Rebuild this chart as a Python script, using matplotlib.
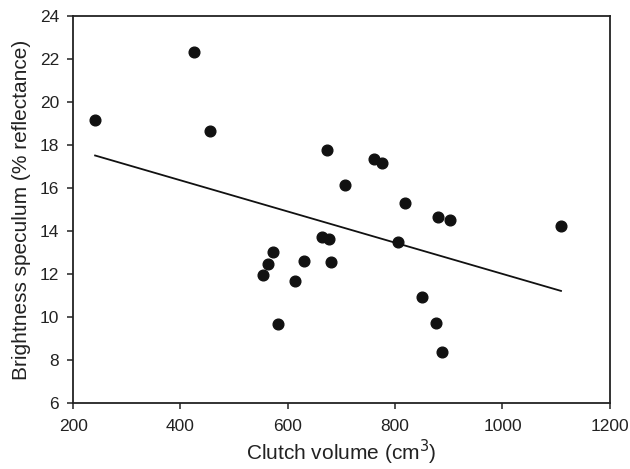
import numpy as np
import matplotlib
matplotlib.use('Agg')
from matplotlib import pyplot as plt

plt.rcParams['font.family'] = ['Liberation Sans', 'DejaVu Sans']

# clutch volume (cm3) and speculum brightness (% reflectance)
clutch_volume = [241, 425, 455, 554, 564, 573, 582, 614, 630, 663, 673, 677,
                 680, 706, 760, 776, 805, 819, 850, 876, 879, 888, 903, 1109]
brightness = [19.15, 22.31, 18.64, 11.98, 12.46, 13.03, 9.69, 11.69, 12.6, 13.72, 17.77, 13.62,
              12.58, 16.15, 17.34, 17.16, 13.5, 15.33, 10.96, 9.75, 14.67, 8.37, 14.53, 14.24]

xticks = [200, 400, 600, 800, 1000, 1200]
yticks = [6, 8, 10, 12, 14, 16, 18, 20, 22, 24]

x = np.array(clutch_volume)
y = np.array(brightness)

# least squares fit
slope, intercept = np.polyfit(x, y, 1)
xfit = np.array([x.min(), x.max()])

fig = plt.figure(figsize=(6.3, 4.69), dpi=100)
ax = fig.add_axes([0.116, 0.14, 0.852, 0.826])

ax.plot(x, y, 'o', color='#111111', markersize=7.7, zorder=3)
ax.plot(xfit, slope * xfit + intercept, '-', color='#111111', lw=1.3)

ax.set_xlim(200, 1200)
ax.set_ylim(6, 24)
ax.set_xticks(xticks)
ax.set_yticks(yticks)
ax.tick_params(direction='out', length=4, width=1.1, labelsize=12.5, color='#222222', labelcolor='#222222')
ax.tick_params(axis='x', pad=7)
ax.tick_params(axis='y', pad=6)
for s in ax.spines.values():
    s.set_linewidth(1.3)
    s.set_color('#222222')

ax.set_xlabel('Clutch volume (cm$^3$)', fontsize=15, labelpad=3, color='#222222')
ax.set_ylabel('Brightness speculum (% reflectance)', fontsize=15, labelpad=6, color='#222222')

fig.savefig('out.png', dpi=100)
